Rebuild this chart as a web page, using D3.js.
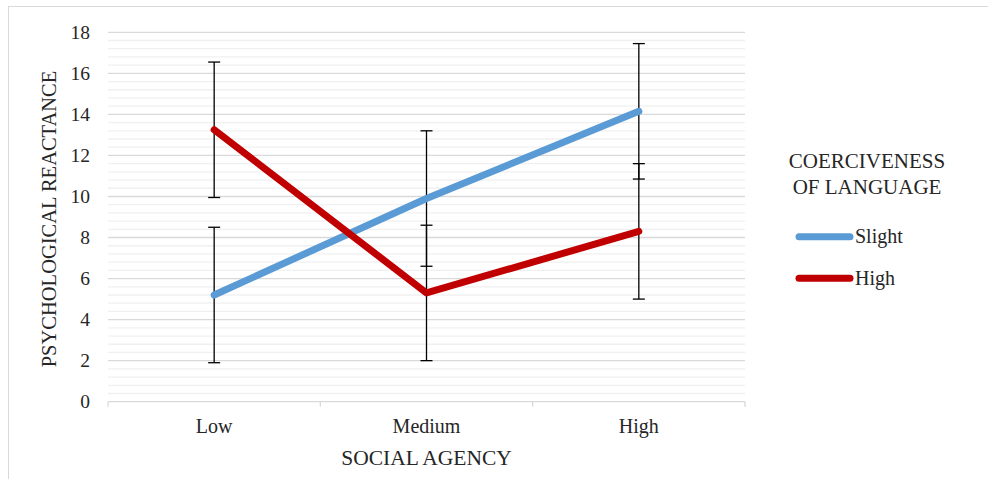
<!DOCTYPE html>
<html>
<head>
<meta charset="utf-8">
<script src="https://cdn.jsdelivr.net/npm/d3@7"></script>
<style>
  html, body { margin: 0; padding: 0; background: #fff; }
  svg { display: block; font-family: "Liberation Serif", "DejaVu Serif", serif; }
</style>
</head>
<body>
<svg id="chart" width="988" height="479"></svg>
<script>
// Social agency levels on the x axis
const categories = ["Low", "Medium", "High"];
// Mean psychological reactance per coerciveness condition
const slightValues = [5.2, 9.9, 14.15];
const highValues = [13.25, 5.3, 8.3];
// Error bar half-widths
const slightErrors = [3.3, 3.3, 3.3];
const highErrors = [3.3, 3.3, 3.3];
const seriesNames = ["Slight", "High"];
const seriesColors = ["#5b9bd5", "#c00000"];
const yTicks = [0, 2, 4, 6, 8, 10, 12, 14, 16, 18];

const series = [
  { name: seriesNames[0], color: seriesColors[0], values: slightValues, errors: slightErrors },
  { name: seriesNames[1], color: seriesColors[1], values: highValues, errors: highErrors }
];

const svg = d3.select("#chart");
const textColor = "#262626";

// Outer chart frame
svg.append("rect")
  .attr("x", 8.5).attr("y", 6.5)
  .attr("width", 990).attr("height", 490)
  .attr("fill", "none").attr("stroke", "#d9d9d9").attr("stroke-width", 1);

const plot = { left: 108, right: 745, top: 32.3, bottom: 401.7 };

const x = d3.scaleBand().domain(categories).range([plot.left, plot.right]).padding(0);
const y = d3.scaleLinear().domain([0, 18]).range([plot.bottom, plot.top]);
const cx = c => x(c) + x.bandwidth() / 2;

// Minor gridlines every 0.4
const minor = d3.range(0, 18.001, 0.4).filter(v => Math.abs(v / 2 - Math.round(v / 2)) > 1e-6);
svg.append("g").selectAll("line").data(minor).join("line")
  .attr("x1", plot.left).attr("x2", plot.right)
  .attr("y1", d => y(d)).attr("y2", d => y(d))
  .attr("stroke", "#f0f0f0").attr("stroke-width", 1.3);

// Major gridlines
svg.append("g").selectAll("line").data(yTicks.filter(v => v > 0)).join("line")
  .attr("x1", plot.left).attr("x2", plot.right)
  .attr("y1", d => y(d)).attr("y2", d => y(d))
  .attr("stroke", "#d9d9d9").attr("stroke-width", 1.3);

// Y axis labels
const yAxis = d3.axisLeft(y).tickValues(yTicks).tickSize(0).tickPadding(18);
const yg = svg.append("g").attr("transform", `translate(${plot.left},0)`).call(yAxis);
yg.select(".domain").remove();
yg.selectAll("text").attr("font-size", 19.5).attr("fill", textColor)
  .attr("font-family", "Liberation Serif, serif");

// X axis with category ticks between bands
const xg = svg.append("g").attr("transform", `translate(0,${plot.bottom})`);
xg.append("line").attr("x1", plot.left).attr("x2", plot.right)
  .attr("stroke", "#d9d9d9").attr("stroke-width", 1.3);
const boundaries = categories.map(c => x(c)).concat([plot.right]);
xg.selectAll("line.tick").data(boundaries).join("line").attr("class", "tick")
  .attr("x1", d => d).attr("x2", d => d).attr("y1", 0).attr("y2", 5)
  .attr("stroke", "#d9d9d9").attr("stroke-width", 1.3);
xg.selectAll("text").data(categories).join("text")
  .attr("x", d => cx(d)).attr("y", 31)
  .attr("text-anchor", "middle").attr("font-size", 20).attr("fill", textColor)
  .text(d => d);

// Axis titles
svg.append("text")
  .attr("x", cx(categories[1])).attr("y", 465)
  .attr("text-anchor", "middle").attr("font-size", 21.5).attr("fill", textColor)
  .text("SOCIAL AGENCY");
svg.append("text")
  .attr("transform", `translate(56,${(plot.top + plot.bottom) / 2 + 2}) rotate(-90)`)
  .attr("text-anchor", "middle").attr("font-size", 20.5).attr("fill", textColor)
  .text("PSYCHOLOGICAL REACTANCE");

// Error bars
const eb = svg.append("g");
series.forEach(s => {
  categories.forEach((c, i) => {
    const v = s.values[i], e = s.errors[i];
    const g = eb.append("g");
    g.append("line").attr("x1", cx(c)).attr("x2", cx(c))
      .attr("y1", y(v + e)).attr("y2", y(v - e))
      .attr("stroke", "#000").attr("stroke-width", 1.3);
    [v + e, v - e].forEach(t => {
      g.append("line").attr("x1", cx(c) - 6).attr("x2", cx(c) + 6)
        .attr("y1", y(t)).attr("y2", y(t))
        .attr("stroke", "#000").attr("stroke-width", 1.3);
    });
  });
});

// Series lines
const line = d3.line().x((d, i) => cx(categories[i])).y(d => y(d));
series.forEach(s => {
  svg.append("path").datum(s.values)
    .attr("d", line).attr("fill", "none")
    .attr("stroke", s.color).attr("stroke-width", 7)
    .attr("stroke-linecap", "round").attr("stroke-linejoin", "round");
});

// Legend
const lg = svg.append("g");
lg.append("text").attr("x", 867).attr("y", 168).attr("text-anchor", "middle")
  .attr("font-size", 21).attr("fill", textColor).text("COERCIVENESS");
lg.append("text").attr("x", 867).attr("y", 194).attr("text-anchor", "middle")
  .attr("font-size", 21).attr("fill", textColor).text("OF LANGUAGE");
const legendY = [236.7, 278.3];
series.forEach((s, i) => {
  lg.append("line").attr("x1", 799).attr("x2", 850)
    .attr("y1", legendY[i]).attr("y2", legendY[i])
    .attr("stroke", s.color).attr("stroke-width", 7).attr("stroke-linecap", "round");
  lg.append("text").attr("x", 855).attr("y", legendY[i] + 6.5)
    .attr("font-size", 20).attr("fill", textColor).text(s.name);
});
</script>
</body>
</html>
